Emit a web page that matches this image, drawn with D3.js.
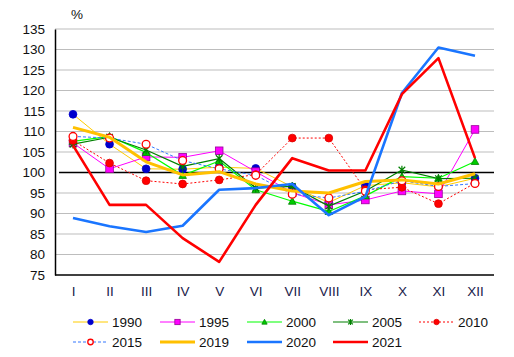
<!DOCTYPE html>
<html>
<head>
<meta charset="utf-8">
<script src="https://cdn.jsdelivr.net/npm/d3@7"></script>
<style>
html,body{margin:0;padding:0;background:#fff;}
svg{display:block;font-family:"Liberation Sans",Arial,sans-serif;}
</style>
</head>
<body>
<svg id="chart" width="514" height="357"></svg>
<script>
const months = ["I","II","III","IV","V","VI","VII","VIII","IX","X","XI","XII"];
const yTicks = [75,80,85,90,95,100,105,110,115,120,125,130,135];

const v1990 = [114.2,106.9,100.9,100.8,101.3,101.0,96.5,92.7,96.8,97.5,96.5,98.6];
const v1995 = [107.2,100.9,103.8,103.7,105.3,100.2,95.1,92.1,93.3,95.5,94.8,110.5];
const v2000 = [107.6,108.8,104.9,99.3,102.8,95.8,93.0,90.5,94.3,99.0,98.6,102.7];
const v2005 = [106.9,108.6,105.5,101.5,103.4,96.2,96.6,91.8,95.5,100.6,98.5,98.6];
const v2010 = [107.8,102.3,98.0,97.2,98.2,99.5,108.4,108.4,95.8,96.4,92.4,97.4];
const v2015 = [108.8,108.4,106.9,102.9,100.9,99.3,94.7,93.8,95.4,98.0,96.6,97.3];
const v2019 = [111.0,108.6,102.6,99.4,100.2,97.2,95.5,95.0,97.8,98.2,97.2,99.7];
const v2020 = [88.9,86.9,85.5,87.0,95.8,96.2,97.2,89.6,94.1,119.4,130.5,128.5];
const v2021 = [106.6,92.1,92.1,84.0,78.2,92.1,103.5,100.5,100.5,119.1,127.9,103.5];

const series = [
  {name:"1990", values:v1990, line:"#FFCC00", width:1, dash:null, marker:"circle", mFill:"#0000CC", mStroke:"#0000CC", r:3.9},
  {name:"1995", values:v1995, line:"#FF00FF", width:1, dash:null, marker:"square", mFill:"#FF00FF", mStroke:"#990099", r:3.8},
  {name:"2000", values:v2000, line:"#00FF00", width:1.2, dash:null, marker:"triangle", mFill:"#00CC00", mStroke:"#008000", r:3.8},
  {name:"2005", values:v2005, line:"#008000", width:1.2, dash:null, marker:"star", mFill:"none", mStroke:"#008000", r:4.4},
  {name:"2010", values:v2010, line:"#FF0000", width:1, dash:"2,2", marker:"circle", mFill:"#FF0000", mStroke:"#DD0000", r:3.9},
  {name:"2015", values:v2015, line:"#3377FF", width:1, dash:"3,2", marker:"open", mFill:"#FFFFFF", mStroke:"#FF0000", r:3.9},
  {name:"2019", values:v2019, line:"#FFC000", width:3, dash:null, marker:null},
  {name:"2020", values:v2020, line:"#1A75FF", width:2.6, dash:null, marker:null},
  {name:"2021", values:v2021, line:"#FF0000", width:2.6, dash:null, marker:null}
];

const svg = d3.select("#chart");
const plotL = 55, plotR = 494, plotT = 29, plotB = 275;

const x = d3.scalePoint().domain(months).range([73, 475]);
const y = d3.scaleLinear().domain([75,135]).range([plotB, plotT]);

// gridlines
svg.append("g").selectAll("line").data(yTicks.filter(t => t !== 75 && t !== 100))
  .join("line")
  .attr("x1", plotL).attr("x2", plotR)
  .attr("y1", d => y(d)).attr("y2", d => y(d))
  .attr("stroke", "#BDBDBD").attr("stroke-width", 1.2);

// y axis
const yAxis = d3.axisLeft(y).tickValues(yTicks).tickSize(0).tickPadding(10);
const gy = svg.append("g").attr("transform", `translate(${plotL},0)`).call(yAxis);
gy.select(".domain").attr("stroke", "#000").attr("stroke-width", 1.5);
gy.selectAll("text").attr("font-size", 13.5).attr("fill", "#111").attr("font-family", "Liberation Sans, Arial, sans-serif");

// x axis
const xAxis = d3.axisBottom(x).tickSize(0).tickPadding(11);
const gx = svg.append("g").attr("transform", `translate(0,${plotB})`).call(xAxis);
gx.select(".domain").attr("d", `M${plotL},0H${plotR}`).attr("stroke", "#000").attr("stroke-width", 1.5);
gx.selectAll("text").attr("font-size", 13.5).attr("fill", "#1a1a4a").attr("font-family", "Liberation Sans, Arial, sans-serif");

// 100 line
svg.append("line").attr("x1", 59).attr("x2", plotR)
  .attr("y1", y(100)).attr("y2", y(100))
  .attr("stroke", "#000").attr("stroke-width", 1.4);

// % label
svg.append("text").attr("x", 77).attr("y", 19).attr("text-anchor", "middle")
  .attr("font-size", 13.5).attr("fill", "#111").text("%");

function drawMarker(g, s, cx, cy) {
  const r = s.r;
  if (s.marker === "circle" || s.marker === "open") {
    g.append("circle").attr("cx", cx).attr("cy", cy).attr("r", r)
      .attr("fill", s.mFill).attr("stroke", s.mStroke).attr("stroke-width", s.marker === "open" ? 1.3 : 0.8);
  } else if (s.marker === "square") {
    g.append("rect").attr("x", cx - r).attr("y", cy - r).attr("width", 2*r).attr("height", 2*r)
      .attr("fill", s.mFill).attr("stroke", s.mStroke).attr("stroke-width", 0.8);
  } else if (s.marker === "triangle") {
    g.append("path").attr("d", `M${cx},${cy - r}L${cx + r},${cy + r*0.8}L${cx - r},${cy + r*0.8}Z`)
      .attr("fill", s.mFill).attr("stroke", s.mStroke).attr("stroke-width", 0.8);
  } else if (s.marker === "star") {
    const d = r*0.75;
    g.append("path").attr("d",
      `M${cx - d},${cy - d}L${cx + d},${cy + d}M${cx - d},${cy + d}L${cx + d},${cy - d}M${cx},${cy - r}L${cx},${cy + r}`)
      .attr("fill", "none").attr("stroke", s.mStroke).attr("stroke-width", 1.2);
  }
}

const lineGen = d3.line().x((d, i) => x(months[i])).y(d => y(d));

series.forEach(s => {
  const g = svg.append("g");
  g.append("path").attr("d", lineGen(s.values))
    .attr("fill", "none").attr("stroke", s.line).attr("stroke-width", s.width)
    .attr("stroke-dasharray", s.dash).attr("stroke-linejoin", "round");
  if (s.marker) {
    s.values.forEach((v, i) => drawMarker(g, s, x(months[i]), y(v)));
  }
});

// legend
const legCols = [73, 160, 247, 333, 419];
const legRows = [322, 342];
series.forEach((s, i) => {
  const col = i % 5, row = Math.floor(i / 5);
  const lx = legCols[col], ly = legRows[row];
  const g = svg.append("g");
  g.append("line").attr("x1", lx).attr("x2", lx + 35).attr("y1", ly).attr("y2", ly)
    .attr("stroke", s.line).attr("stroke-width", s.width).attr("stroke-dasharray", s.dash);
  if (s.marker) drawMarker(g, Object.assign({}, s, {r: s.r * 0.7}), lx + 17.5, ly);
  g.append("text").attr("x", lx + 39).attr("y", ly + 4.5).attr("font-size", 13.5)
    .attr("fill", "#111").text(s.name);
});
</script>
</body>
</html>
